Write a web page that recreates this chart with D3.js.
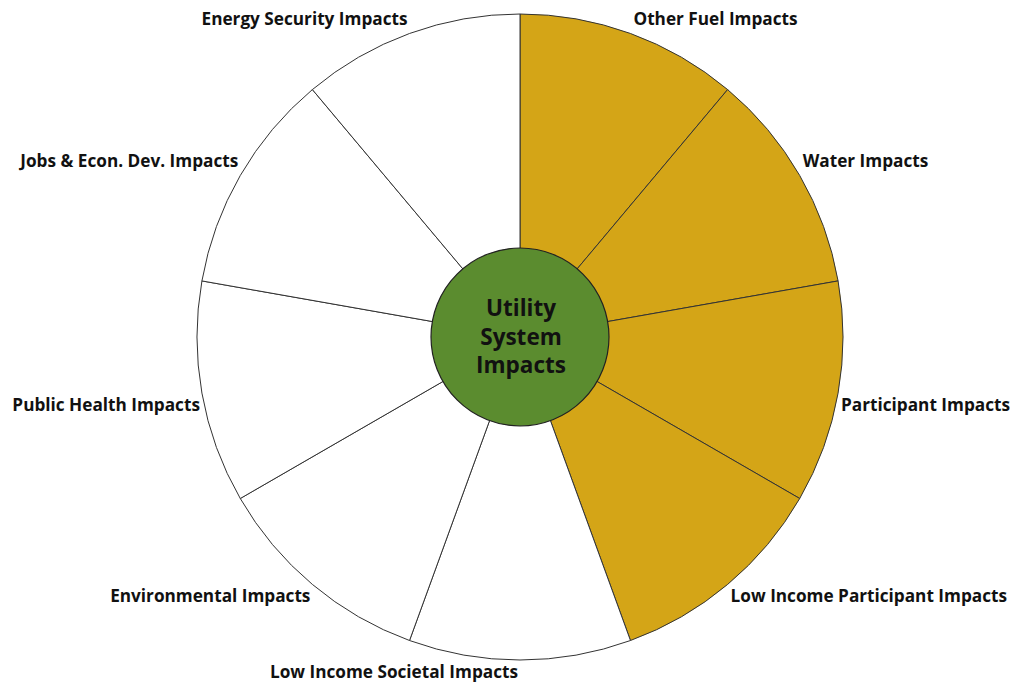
<!DOCTYPE html>
<html>
<head>
<meta charset="utf-8">
<script src="https://cdn.jsdelivr.net/npm/d3@7"></script>
<style>
  html, body { margin: 0; padding: 0; background: #ffffff; }
  svg { display: block; }
  text { font-family: "Open Sans", "Lato", sans-serif; font-weight: 700; fill: #111; }
</style>
</head>
<body>
<svg id="chart" width="1011" height="682"></svg>
<script>
const categories = [
  "Other Fuel Impacts",
  "Water Impacts",
  "Participant Impacts",
  "Low Income Participant Impacts",
  "Low Income Societal Impacts",
  "Environmental Impacts",
  "Public Health Impacts",
  "Jobs & Econ. Dev. Impacts",
  "Energy Security Impacts"
];
const values = [1, 1, 1, 1, 1, 1, 1, 1, 1];
const groups = ["highlight", "highlight", "highlight", "highlight", "other", "other", "other", "other", "other"];
const centerLines = ["Utility", "System", "Impacts"];

const W = 1011, H = 682;
const cx = 520, cy = 337;
const outerR = 323, innerR = 89;

const color = d3.scaleOrdinal().domain(["highlight", "other"]).range(["#D4A517", "#ffffff"]);

const svg = d3.select("#chart");
const g = svg.append("g").attr("transform", `translate(${cx},${cy})`);

const data = categories.map((c, i) => ({ name: c, value: values[i], group: groups[i] }));
const pie = d3.pie().value(d => d.value).sort(null);
const arcs = pie(data);
const arc = d3.arc().innerRadius(0).outerRadius(outerR);

g.selectAll("path.slice")
  .data(arcs)
  .enter().append("path")
  .attr("class", "slice")
  .attr("d", arc)
  .attr("fill", d => color(d.data.group))
  .attr("stroke", "#333")
  .attr("stroke-width", 1);

g.append("circle")
  .attr("r", innerR)
  .attr("fill", "#5B8C2F")
  .attr("stroke", "#222")
  .attr("stroke-width", 1.2);

g.selectAll("text.center")
  .data(centerLines)
  .enter().append("text")
  .attr("class", "center")
  .attr("text-anchor", "middle")
  .attr("x", 1)
  .attr("y", (d, i) => (i - 1) * 28.5)
  .attr("dy", "0.35em")
  .style("font-size", "22.5px")
  .text(d => d);

g.selectAll("text.label")
  .data(arcs)
  .enter().append("text")
  .attr("class", "label")
  .each(function(d) {
    const a = (d.startAngle + d.endAngle) / 2;
    const x = Math.sin(a) * outerR;
    const y = -Math.cos(a) * outerR;
    const right = a < Math.PI - 1e-6;
    const top = Math.cos(a) > 0;
    d3.select(this)
      .attr("x", x + (right ? 3 : -2))
      .attr("y", y + (top ? -15 : 11.5))
      .attr("dy", "0.35em")
      .attr("text-anchor", right ? "start" : "end");
  })
  .style("font-size", "17.2px")
  .text(d => d.data.name);
</script>
</body>
</html>
